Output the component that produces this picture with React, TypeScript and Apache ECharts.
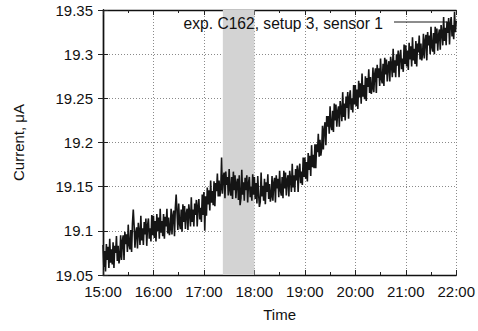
import React, { useEffect, useRef } from "react";
import * as echarts from "echarts";

const xTickLabels = ["15:00", "16:00", "17:00", "18:00", "19:00", "20:00", "21:00", "22:00"];
const seriesName = "exp. C162, setup 3, sensor 1";
const bandStartMin = 142.5; // 17:22:30
const bandEndMin = 180; // 18:00

// current in µA, one reading per minute from 15:00 to 22:00
const current = [
  19.084, 19.059, 19.077, 19.054, 19.085, 19.067, 19.082, 19.058, 19.091, 19.064, 19.079, 19.062, 19.087, 19.058, 19.083, 19.075, 19.094, 19.066, 19.083, 19.063,
  19.071, 19.095, 19.067, 19.088, 19.095, 19.067, 19.099, 19.085, 19.096, 19.076, 19.107, 19.084, 19.079, 19.101, 19.076, 19.108, 19.124, 19.106, 19.081, 19.098,
  19.104, 19.080, 19.109, 19.099, 19.084, 19.117, 19.089, 19.103, 19.084, 19.110, 19.096, 19.114, 19.083, 19.106, 19.114, 19.091, 19.103, 19.088, 19.118, 19.095,
  19.117, 19.092, 19.111, 19.088, 19.119, 19.100, 19.115, 19.091, 19.125, 19.098, 19.111, 19.094, 19.119, 19.091, 19.116, 19.105, 19.125, 19.097, 19.115, 19.095,
  19.102, 19.125, 19.096, 19.117, 19.123, 19.094, 19.126, 19.141, 19.121, 19.101, 19.131, 19.108, 19.102, 19.124, 19.099, 19.130, 19.110, 19.128, 19.102, 19.119,
  19.125, 19.101, 19.130, 19.120, 19.105, 19.138, 19.110, 19.124, 19.105, 19.131, 19.118, 19.135, 19.105, 19.128, 19.136, 19.113, 19.126, 19.110, 19.141, 19.118,
  19.144, 19.100, 19.139, 19.117, 19.149, 19.130, 19.146, 19.123, 19.157, 19.132, 19.145, 19.129, 19.156, 19.128, 19.154, 19.145, 19.165, 19.139, 19.157, 19.139,
  19.147, 19.183, 19.142, 19.161, 19.166, 19.137, 19.167, 19.152, 19.161, 19.140, 19.170, 19.146, 19.140, 19.161, 19.136, 19.167, 19.146, 19.163, 19.137, 19.154,
  19.159, 19.135, 19.163, 19.129, 19.137, 19.169, 19.141, 19.155, 19.134, 19.160, 19.146, 19.163, 19.132, 19.154, 19.161, 19.138, 19.150, 19.134, 19.164, 19.141,
  19.161, 19.136, 19.154, 19.131, 19.162, 19.142, 19.127, 19.133, 19.166, 19.139, 19.151, 19.134, 19.159, 19.130, 19.155, 19.144, 19.164, 19.136, 19.153, 19.133,
  19.139, 19.162, 19.134, 19.154, 19.160, 19.132, 19.163, 19.148, 19.159, 19.138, 19.168, 19.146, 19.140, 19.161, 19.137, 19.168, 19.148, 19.166, 19.140, 19.158,
  19.163, 19.139, 19.168, 19.158, 19.144, 19.176, 19.149, 19.163, 19.144, 19.170, 19.157, 19.174, 19.144, 19.168, 19.176, 19.154, 19.167, 19.152, 19.183, 19.161,
  19.183, 19.159, 19.178, 19.156, 19.188, 19.169, 19.185, 19.162, 19.197, 19.172, 19.186, 19.171, 19.198, 19.171, 19.198, 19.189, 19.210, 19.184, 19.203, 19.185,
  19.193, 19.219, 19.192, 19.215, 19.223, 19.197, 19.230, 19.218, 19.230, 19.210, 19.241, 19.219, 19.214, 19.236, 19.212, 19.244, 19.225, 19.243, 19.218, 19.235,
  19.241, 19.218, 19.247, 19.238, 19.224, 19.257, 19.229, 19.244, 19.225, 19.252, 19.239, 19.257, 19.227, 19.251, 19.259, 19.237, 19.250, 19.234, 19.265, 19.243,
  19.265, 19.241, 19.260, 19.238, 19.270, 19.251, 19.267, 19.244, 19.278, 19.252, 19.265, 19.249, 19.275, 19.247, 19.273, 19.263, 19.283, 19.256, 19.274, 19.255,
  19.261, 19.285, 19.257, 19.277, 19.284, 19.256, 19.288, 19.273, 19.284, 19.264, 19.295, 19.272, 19.267, 19.289, 19.264, 19.296, 19.277, 19.294, 19.269, 19.286,
  19.292, 19.269, 19.297, 19.288, 19.274, 19.306, 19.279, 19.293, 19.274, 19.300, 19.287, 19.304, 19.274, 19.298, 19.305, 19.283, 19.295, 19.280, 19.311, 19.289,
  19.310, 19.286, 19.304, 19.282, 19.313, 19.294, 19.309, 19.286, 19.319, 19.293, 19.306, 19.289, 19.315, 19.286, 19.312, 19.302, 19.321, 19.294, 19.312, 19.293,
  19.300, 19.323, 19.295, 19.315, 19.322, 19.293, 19.325, 19.310, 19.321, 19.300, 19.331, 19.308, 19.303, 19.324, 19.300, 19.331, 19.312, 19.329, 19.304, 19.322,
  19.328, 19.305, 19.333, 19.324, 19.310, 19.342, 19.315, 19.330, 19.310, 19.337, 19.324, 19.341, 19.311, 19.335, 19.342, 19.320, 19.333, 19.317, 19.348, 19.325,
  19.338,
];

const FONT = "Liberation Sans, Arial, Helvetica, sans-serif";

export default function App() {
  const ref = useRef<HTMLDivElement>(null);
  useEffect(() => {
    if (!ref.current) return;
    const chart = echarts.init(ref.current, undefined, { renderer: "svg" });
    const data = current.map((v, i) => [i, v]);
    const gridColor = "#8a8a8a";
    const axisLine = { show: true, lineStyle: { color: "#111", width: 1.4 } };
    const xCommon = {
      type: "value" as const,
      min: 0,
      max: 420,
      interval: 60,
      axisLine,
      axisTick: { show: true, inside: true, length: 5, lineStyle: { color: "#222" } },
      minorTick: { show: true, splitNumber: 2, length: 3, lineStyle: { color: "#222" } },
    };
    const yCommon = {
      type: "value" as const,
      min: 19.05,
      max: 19.35,
      interval: 0.05,
      axisLine,
      axisTick: { show: true, inside: true, length: 5, lineStyle: { color: "#222" } },
    };
    chart.setOption({
      animation: false,
      backgroundColor: "#fff",
      textStyle: { fontFamily: FONT },
      grid: { left: 103, right: 21, top: 10, bottom: 56, containLabel: false },
      xAxis: [
        {
          ...xCommon,
          position: "bottom",
          name: "Time",
          nameLocation: "middle",
          nameGap: 32,
          nameTextStyle: { fontSize: 15, color: "#111", fontFamily: FONT },
          axisLabel: {
            fontSize: 15,
            color: "#111",
            margin: 9,
            fontFamily: FONT,
            formatter: (v: number) => xTickLabels[Math.round(v / 60)] ?? "",
          },
          splitLine: { show: true, lineStyle: { color: gridColor, type: [1, 2], width: 1 } },
        },
        {
          ...xCommon,
          position: "top",
          axisLabel: { show: false },
          splitLine: { show: false },
        },
      ],
      yAxis: [
        {
          ...yCommon,
          position: "left",
          name: "Current, μA",
          nameLocation: "middle",
          nameGap: 77,
          nameRotate: 90,
          nameTextStyle: { fontSize: 15, color: "#111", fontFamily: FONT },
          axisLabel: {
            fontSize: 15,
            color: "#111",
            margin: 10,
            fontFamily: FONT,
            formatter: (v: number) => String(parseFloat(v.toFixed(2))),
          },
          splitLine: { show: true, lineStyle: { color: gridColor, type: [1, 2], width: 1 } },
        },
        {
          ...yCommon,
          position: "right",
          axisLabel: { show: false },
          splitLine: { show: false },
        },
      ],
      series: [
        {
          name: seriesName,
          type: "line",
          data,
          showSymbol: false,
          symbol: "none",
          lineStyle: { color: "#151515", width: 1.6, join: "miter", miterLimit: 10 },
          z: 3,
          markArea: {
            silent: true,
            itemStyle: { color: "#d3d3d3", opacity: 1 },
            data: [[{ xAxis: bandStartMin }, { xAxis: bandEndMin }]],
          },
        },
      ],
      graphic: [
        {
          type: "text",
          x: 383,
          y: 23,
          style: {
            text: seriesName,
            fontSize: 15.6,
            fontFamily: FONT,
            fill: "#111",
            align: "right",
            verticalAlign: "middle",
          },
          z: 10,
        },
        {
          type: "line",
          shape: { x1: 394, y1: 22, x2: 447, y2: 22 },
          style: { stroke: "#1a1a1a", lineWidth: 1 },
          z: 10,
        },
      ],
    });
    return () => chart.dispose();
  }, []);
  return <div ref={ref} style={{ width: 478, height: 331, position: "absolute", left: 0, top: 0 }} />;
}
